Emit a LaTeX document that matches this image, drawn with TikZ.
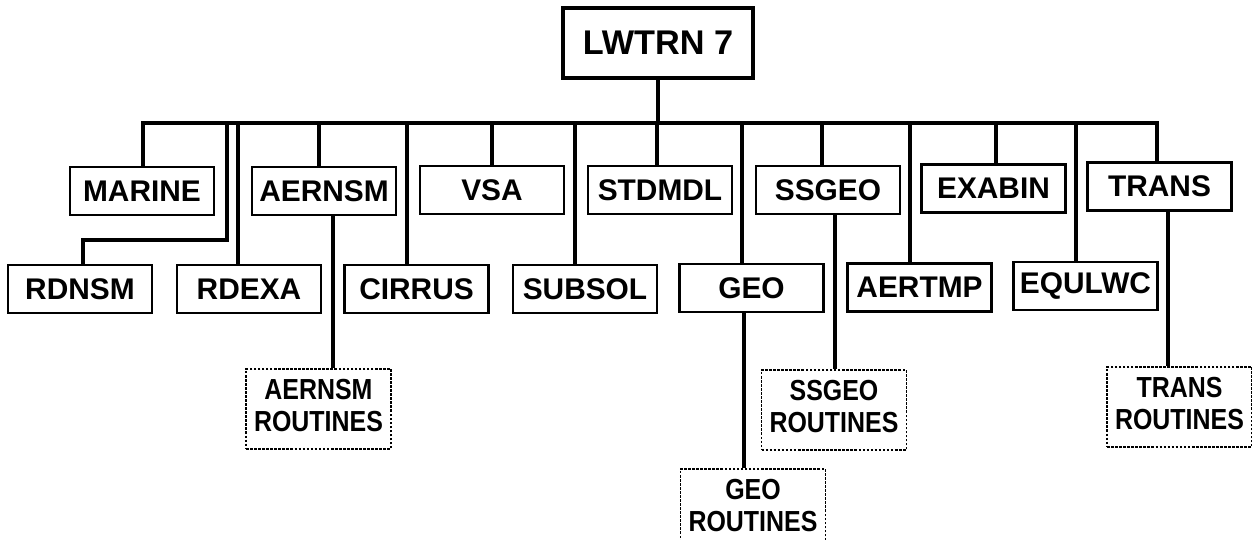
\documentclass[tikz,border=0pt]{standalone}
\usepackage{fontspec}
\setmainfont{Liberation Sans}
\usepackage{graphicx}
\tikzset{
  box/.style={draw, line width=1.6pt, minimum width=2.88cm, minimum height=0.96cm, inner sep=0pt,
    font=\fontsize{17}{20}\selectfont\bfseries},
  topbox/.style={draw, line width=1.8pt, minimum width=3.8cm, minimum height=1.4cm, inner sep=0pt,
    font=\fontsize{19.5}{22}\selectfont\bfseries},
  rbox/.style={draw, line width=1.1pt, dash pattern=on 1.5pt off 0.8pt, minimum width=2.9cm,
    minimum height=1.6cm, inner sep=0pt, align=center, font=\fontsize{16.5}{18.5}\selectfont\bfseries},
  link/.style={line width=1.8pt, line join=miter},
}
\newcommand{\rtext}[2]{\scalebox{0.86}[1]{\begin{tabular}{@{}c@{}}#1\\#2\end{tabular}}}
\begin{document}
\begin{tikzpicture}[x=0.02cm, y=-0.02cm]
\useasboundingbox (0,0) rectangle (1252,540);
\fill[white] (0,0) rectangle (1252,540);

% root
\node[topbox] (lw) at (658,43) {LWTRN 7};

% first row
\node[box] (marine) at (142,191) {MARINE};
\node[box] (aernsm) at (324,191) {AERNSM};
\node[box] (vsa)    at (492,190) {VSA};
\node[box] (stdmdl) at (660,190) {STDMDL};
\node[box] (ssgeo)  at (828,190) {SSGEO};
\node[box] (exabin) at (993.5,188.5) {EXABIN};
\node[box] (trans)  at (1159.5,186.5) {TRANS};

% second row
\node[box] (rdnsm)  at (80,289) {RDNSM};
\node[box] (rdexa)  at (249,289) {RDEXA};
\node[box] (cirrus) at (416.5,289) {CIRRUS};
\node[box] (subsol) at (585,289) {SUBSOL};
\node[box] (geo)    at (751.5,288) {GEO};
\node[box] (aertmp) at (919.5,287.5) {AERTMP};
\node[box] (equlwc) at (1085.5,286) {EQULWC};

% routines
\node[rbox] (aernsmr) at (318.5,409) {\rtext{AERNSM}{ROUTINES}};
\node[rbox] (ssgeor)  at (834,410)   {\rtext{SSGEO}{ROUTINES}};
\node[rbox] (transr)  at (1179.5,407) {\rtext{TRANS}{ROUTINES}};
\node[rbox] (geor)    at (753,509)   {\rtext{GEO}{ROUTINES}};

% bus
\coordinate (bus) at (0,123);
\coordinate (rdk) at (227,240);

\draw[link] (lw.south) -- (lw.south |- bus);
\draw[link] ([xshift=0.02cm]marine.north) -- ([xshift=0.02cm]marine.north |- bus)
  -- ([xshift=-0.05cm]trans.north |- bus) -- ([xshift=-0.05cm]trans.north);

% first row stems
\draw[link] ([xshift=-0.1cm]aernsm.north) -- ([xshift=-0.1cm]aernsm.north |- bus);
\draw[link] (vsa.north) -- (vsa.north |- bus);
\draw[link] ([xshift=-0.06cm]stdmdl.north) -- ([xshift=-0.06cm]stdmdl.north |- bus);
\draw[link] ([xshift=-0.12cm]ssgeo.north) -- ([xshift=-0.12cm]ssgeo.north |- bus);
\draw[link] ([xshift=0.05cm]exabin.north) -- ([xshift=0.05cm]exabin.north |- bus);

% second row stems
\draw[link] ([xshift=0.06cm]rdnsm.north) -- ([xshift=0.06cm]rdnsm.north |- rdk) -- (rdk) -- (rdk |- bus);
\draw[link] ([xshift=-0.22cm]rdexa.north) -- ([xshift=-0.22cm]rdexa.north |- bus);
\draw[link] ([xshift=-0.19cm]cirrus.north) -- ([xshift=-0.19cm]cirrus.north |- bus);
\draw[link] ([xshift=-0.2cm]subsol.north) -- ([xshift=-0.2cm]subsol.north |- bus);
\draw[link] ([xshift=-0.19cm]geo.north) -- ([xshift=-0.19cm]geo.north |- bus);
\draw[link] ([xshift=-0.19cm]aertmp.north) -- ([xshift=-0.19cm]aertmp.north |- bus);
\draw[link] ([xshift=-0.19cm]equlwc.north) -- ([xshift=-0.19cm]equlwc.north |- bus);

% routine links
\draw[link] ([xshift=0.18cm]aernsm.south) -- ([xshift=0.18cm]aernsm.south |- aernsmr.north);
\draw[link] ([xshift=0.14cm]ssgeo.south) -- ([xshift=0.14cm]ssgeo.south |- ssgeor.north);
\draw[link] ([xshift=0.17cm]trans.south) -- ([xshift=0.17cm]trans.south |- transr.north);
\draw[link] ([xshift=-0.15cm]geo.south) -- ([xshift=-0.15cm]geo.south |- geor.north);
\end{tikzpicture}
\end{document}
